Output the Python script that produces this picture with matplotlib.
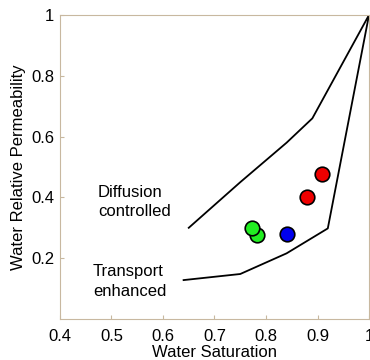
import matplotlib.pyplot as plt
from matplotlib.ticker import FuncFormatter

plt.rcParams['font.family'] = ['Liberation Sans', 'DejaVu Sans']

# upper bound curve (diffusion controlled)
diff_sw = [0.65, 0.75, 0.84, 0.89, 1.0]
diff_kr = [0.30, 0.45, 0.58, 0.66, 1.0]
# lower bound curve (transport enhanced)
trans_sw = [0.64, 0.75, 0.84, 0.92, 1.0]
trans_kr = [0.128, 0.148, 0.216, 0.298, 1.0]

# measured points
pt_sw = [0.773, 0.782, 0.841, 0.880, 0.908]
pt_kr = [0.300, 0.276, 0.279, 0.400, 0.476]
pt_col = ['#22ee22', '#22ee22', '#0000ee', '#ee0000', '#ee0000']

fig = plt.figure(figsize=(3.7, 3.6), dpi=100)
ax = fig.add_axes([60/370, 41/360, 309/370, 304/360])

ax.plot(diff_sw, diff_kr, color='black', lw=1.3)
ax.plot(trans_sw, trans_kr, color='black', lw=1.3)
# draw in reverse so first green sits on top of second
for i in reversed(range(len(pt_sw))):
    ax.plot(pt_sw[i], pt_kr[i], 'o', ms=10.5, mfc=pt_col[i], mec='black', mew=1.2)

ax.text(0.474, 0.415, 'Diffusion', fontsize=12, va='center', ha='left')
ax.text(0.474, 0.353, 'controlled', fontsize=12, va='center', ha='left')
ax.text(0.464, 0.156, 'Transport', fontsize=12, va='center', ha='left')
ax.text(0.464, 0.090, 'enhanced', fontsize=12, va='center', ha='left')

ax.set_xlim(0.4, 1.0)
ax.set_ylim(0, 1)
ax.set_xticks([0.4, 0.5, 0.6, 0.7, 0.8, 0.9, 1.0])
ax.set_yticks([0.2, 0.4, 0.6, 0.8, 1.0])
fmt = FuncFormatter(lambda v, p: '1' if abs(v - 1) < 1e-9 else f'{v:.1f}')
ax.xaxis.set_major_formatter(fmt)
ax.yaxis.set_major_formatter(fmt)
ax.tick_params(direction='in', length=3, color='#c8b8a0', labelsize=12)
ax.tick_params(axis='x', pad=7)
ax.tick_params(axis='y', pad=4)
for s in ax.spines.values():
    s.set_color('#c8b8a0')
ax.set_xlabel('Water Saturation', fontsize=12, labelpad=1)
ax.set_ylabel('Water Relative Permeability', fontsize=12, labelpad=4)

fig.savefig('out.png', dpi=100)
